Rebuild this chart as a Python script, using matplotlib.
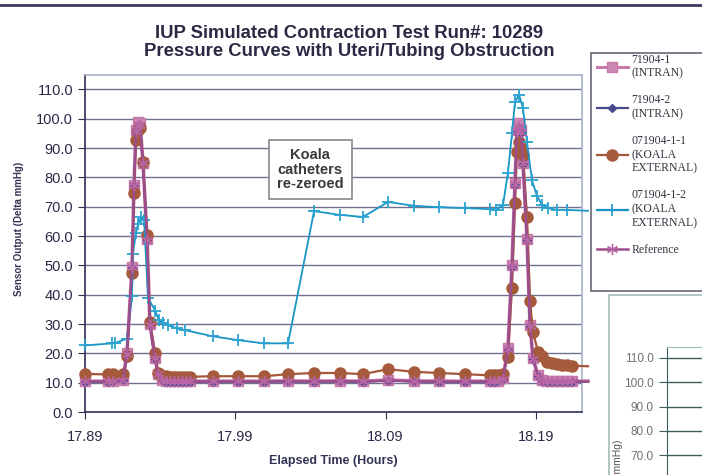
import numpy as np
import matplotlib
matplotlib.use("Agg")
import matplotlib.pyplot as plt
from matplotlib.lines import Line2D
from matplotlib.patches import Rectangle

# sample times (hours) shared by the INTRAN / Reference / KOALA-1 series
t_main = [17.8900, 17.9053, 17.9086, 17.9153, 17.9179, 17.9213, 17.9226, 17.9239,
          17.9253, 17.9266, 17.9286, 17.9313, 17.9332, 17.9366, 17.9386, 17.9412,
          17.9439, 17.9466, 17.9492, 17.9519, 17.9545, 17.9572, 17.9599, 17.9752,
          17.9918, 18.0091, 18.0251, 18.0424, 18.0597, 18.0750, 18.0916, 18.1089,
          18.1255, 18.1428, 18.1595, 18.1621, 18.1648, 18.1681, 18.1714, 18.1741,
          18.1761, 18.1774, 18.1788, 18.1801, 18.1814, 18.1841, 18.1861, 18.1881,
          18.1914, 18.1941, 18.1974, 18.2007, 18.2040, 18.2074, 18.2107, 18.2140,
          18.2247]

intran_1 = [10.5, 10.5, 10.5, 11.0, 20.0, 49.5, 77.5, 96.0, 99.0, 98.5, 85.0, 59.0,
            30.0, 18.5, 13.0, 11.0, 10.5, 10.5, 10.5, 10.5, 10.5, 10.5, 10.5, 10.5,
            10.5, 10.5, 10.6, 10.5, 10.6, 10.5, 10.9, 10.6, 10.5, 10.5, 10.5, 10.5,
            10.6, 11.5, 21.7, 50.0, 78.0, 96.0, 98.5, 96.0, 85.0, 59.0, 29.6, 18.3,
            12.5, 10.8, 10.5, 10.5, 10.5, 10.5, 10.5, 10.5, 10.5]

intran_2 = [10.3, 10.3, 10.4, 10.8, 19.5, 49.0, 77.0, 95.5, 97.5, 97.0, 84.5, 58.5,
            29.5, 18.0, 12.5, 10.8, 10.3, 10.3, 10.3, 10.3, 10.3, 10.3, 10.3, 10.3,
            10.3, 10.3, 10.4, 10.3, 10.4, 10.3, 10.7, 10.4, 10.3, 10.3, 10.3, 10.3,
            10.4, 11.2, 21.2, 49.5, 77.5, 95.5, 97.0, 95.0, 84.5, 58.5, 29.0, 18.0,
            12.2, 10.6, 10.3, 10.3, 10.3, 10.3, 10.3, 10.3, 10.3]

koala_1 = [13.0, 12.8, 12.8, 12.8, 19.0, 47.3, 74.6, 92.7, 96.0, 97.0, 85.3, 60.4,
           30.7, 20.0, 13.2, 12.2, 12.2, 12.0, 12.0, 12.0, 12.0, 12.0, 12.0, 12.2,
           12.2, 12.2, 12.9, 13.3, 13.3, 12.9, 14.6, 13.7, 13.3, 12.9, 12.5, 12.6,
           12.6, 13.0, 18.7, 42.2, 71.2, 88.7, 92.2, 90.0, 87.7, 66.5, 38.0, 27.3,
           20.5, 19.0, 17.0, 16.8, 16.2, 16.0, 16.0, 15.8, 15.6]

reference = [10.4, 10.4, 10.4, 10.9, 19.8, 49.3, 77.3, 95.8, 98.0, 97.8, 84.8, 58.8,
             29.8, 18.3, 12.8, 10.9, 10.4, 10.4, 10.4, 10.4, 10.4, 10.4, 10.4, 10.4,
             10.4, 10.4, 10.5, 10.4, 10.5, 10.4, 10.8, 10.5, 10.4, 10.4, 10.4, 10.4,
             10.5, 11.3, 21.5, 49.8, 77.8, 95.8, 97.5, 95.5, 84.8, 58.8, 29.3, 18.2,
             12.3, 10.7, 10.4, 10.4, 10.4, 10.4, 10.4, 10.4, 10.4]

# KOALA catheter 2 has its own sample times
t_koala_2 = [17.8900, 17.9080, 17.9100, 17.9179, 17.9213, 17.9219, 17.9239, 17.9253,
             17.9273, 17.9293, 17.9319, 17.9366, 17.9392, 17.9419, 17.9452, 17.9512,
             17.9565, 17.9752, 17.9918, 18.0091, 18.0251, 18.0424, 18.0597, 18.0750,
             18.0916, 18.1089, 18.1255, 18.1428, 18.1595, 18.1634, 18.1681, 18.1714,
             18.1741, 18.1761, 18.1788, 18.1814, 18.1841, 18.1874, 18.1907, 18.1941,
             18.1981, 18.2040, 18.2107, 18.2247]
koala_2 = [22.7, 23.4, 23.5, 25.0, 39.5, 54.0, 61.0, 64.0, 66.5, 65.5, 39.0, 34.6,
           31.3, 30.5, 29.6, 28.5, 27.9, 25.8, 24.5, 23.4, 23.4, 68.5, 67.2, 66.5,
           71.6, 70.3, 69.8, 69.5, 69.2, 68.9, 70.5, 81.5, 95.0, 105.7, 108.2, 103.7,
           92.0, 79.0, 73.7, 70.6, 69.5, 68.9, 68.9, 68.6]

x_ticks = [17.89, 17.99, 18.09, 18.19]
y_ticks = np.arange(0, 111, 10)
inset_ticks = [70, 80, 90, 100, 110]

W, H = 702, 475
fig = plt.figure(figsize=(W / 100, H / 100), dpi=100)
plt.rcParams['font.family'] = ['Liberation Sans', 'DejaVu Sans']

navy = '#2e2e55'
ax = fig.add_axes([85 / W, 1 - 412 / H, (582 - 85) / W, (412 - 75) / H])
ax.set_xlim(17.89, 18.2207)
ax.set_ylim(0, 114.9)

for yv in y_ticks[1:]:
    ax.axhline(yv, color='#707090', lw=1.0, zorder=0)

mk_last = slice(0, -1)
ax.plot(t_main, intran_1, color='#c77aaa', lw=2.6, marker='s', ms=6.5,
        mfc='#cc88b4', mec='#c77aaa', markevery=mk_last, clip_on=False, zorder=3)
ax.plot(t_main, intran_2, color='#4a4a8e', lw=1.4, marker='D', ms=4.5,
        mfc='#4a4a8e', mec='#4a4a8e', markevery=mk_last, clip_on=False, zorder=4)
ax.plot(t_main, koala_1, color='#a4573a', lw=1.6, marker='o', ms=8,
        mfc='#a65a3c', mec='#a65a3c', markevery=mk_last, clip_on=False, zorder=5)
ax.plot(t_koala_2, koala_2, color='#1996c6', lw=1.3, marker='+', ms=9, mew=1.3,
        mec='#2aa3d0', markevery=mk_last, clip_on=False, zorder=6)
ax.plot(t_main, reference, color='#9c4d8c', lw=1.8, marker=(6, 2, 0), ms=8, mew=1.0,
        mec='#b866a6', markevery=mk_last, clip_on=False, zorder=7)

ax.set_xticks(x_ticks)
ax.set_xticklabels([f"{v:.2f}" for v in x_ticks])
ax.set_yticks(y_ticks)
ax.set_yticklabels([f"{v:.1f}" for v in y_ticks])
ax.tick_params(axis='both', direction='out', length=5, color=navy,
               labelsize=10.5, labelcolor='#2a2a48')
ax.tick_params(axis='x', pad=8)
for side in ['left', 'bottom']:
    ax.spines[side].set_color(navy)
    ax.spines[side].set_linewidth(1.2)
for side in ['top', 'right']:
    ax.spines[side].set_color('#a7b2c8')
    ax.spines[side].set_linewidth(1.2)

ax.set_xlabel("Elapsed Time (Hours)", fontsize=9, fontweight='bold',
              color='#333355', labelpad=8)
ax.set_ylabel("Sensor Output (Delta mmHg)", fontsize=7, fontweight='bold',
              color='#333355')
ax.yaxis.set_label_coords(-0.122, 0.543)

ax.text(18.040, 82.6, "Koala\ncatheters\nre-zeroed", ha='center', va='center',
        fontsize=10.5, fontweight='bold', color='#3a3a3a', linespacing=1.05,
        bbox=dict(boxstyle='square,pad=0.55', fc='white', ec='#888888', lw=1.2),
        zorder=8)

fig.text(349 / W, 1 - 33 / H, "IUP Simulated Contraction Test Run#: 10289",
         ha='center', va='center', fontsize=13.3, fontweight='bold', color='#2a2a45')
fig.text(349 / W, 1 - 51 / H, "Pressure Curves with Uteri/Tubing Obstruction",
         ha='center', va='center', fontsize=13.3, fontweight='bold', color='#2a2a45')

# dark rule along the top of the screenshot
fig.add_artist(Line2D([0, 1], [1 - 5 / H, 1 - 5 / H], transform=fig.transFigure,
                      color='#3c3c5c', lw=2))

# legend frame (Excel leaves extra room at the bottom)
fig.add_artist(Rectangle((591 / W, 1 - 291 / H), 0.2, (291 - 53) / H,
                         transform=fig.transFigure, fc='white', ec='#666677',
                         lw=1.2, zorder=4))

handles = [
    Line2D([], [], color='#c77aaa', lw=2.2, marker='s', ms=7, mfc='#cc88b4', mec='#c77aaa'),
    Line2D([], [], color='#4a4a8e', lw=1.6, marker='D', ms=4.5, mfc='#4a4a8e'),
    Line2D([], [], color='#a4573a', lw=1.6, marker='o', ms=8, mfc='#a65a3c', mec='#a65a3c'),
    Line2D([], [], color='#1996c6', lw=1.6, marker='+', ms=8, mew=1.2),
    Line2D([], [], color='#9c4d8c', lw=1.8, marker=(6, 2, 0), ms=8, mec='#b866a6'),
]
labels = ["71904-1\n(INTRAN)", "71904-2\n(INTRAN)", "071904-1-1\n(KOALA\nEXTERNAL)",
          "071904-1-2\n(KOALA\nEXTERNAL)", "Reference"]
leg = fig.legend(handles, labels, loc='upper left', bbox_to_anchor=(591 / W, 1 - 48 / H),
                 prop={'family': 'Liberation Serif', 'size': 8.5}, frameon=False,
                 handlelength=2.6, handletextpad=0.3, labelspacing=1.25,
                 borderpad=0.5, borderaxespad=0)
leg.set_zorder(5)
for txt in leg.get_texts():
    txt.set_color('#333340')

# edge of a second chart peeking in at the bottom right
fig.add_artist(Rectangle((609 / W, -0.1), 0.5, 1 - 295 / H + 0.1, transform=fig.transFigure,
                         fc='white', ec='#9fbcbc', lw=1.2, zorder=-1))
ax2 = fig.add_axes([667 / W, 0, 0.2, (475 - 347) / H])
ax2.patch.set_alpha(0)
ax2.set_ylim(61.9, 114.5)
ax2.set_xlim(0, 1)
for yv in inset_ticks:
    ax2.axhline(yv, color='#3d5c5c', lw=1.0)
ax2.set_yticks(inset_ticks)
ax2.set_yticklabels([f"{v:.1f}" for v in inset_ticks])
ax2.tick_params(axis='y', direction='out', length=6, color='#3d5c5c',
                labelsize=8.5, labelcolor='#707070')
ax2.set_xticks([])
ax2.spines['left'].set_color('#3d5c5c')
ax2.spines['top'].set_color('#9fbcbc')
ax2.spines['right'].set_visible(False)
ax2.spines['bottom'].set_visible(False)
fig.text(618 / W, 1 - 440 / H, "Sensor Output (Delta mmHg)", rotation=90,
         ha='center', va='top', fontsize=7.5, color='#555555')

fig.savefig("out.png", dpi=100)
